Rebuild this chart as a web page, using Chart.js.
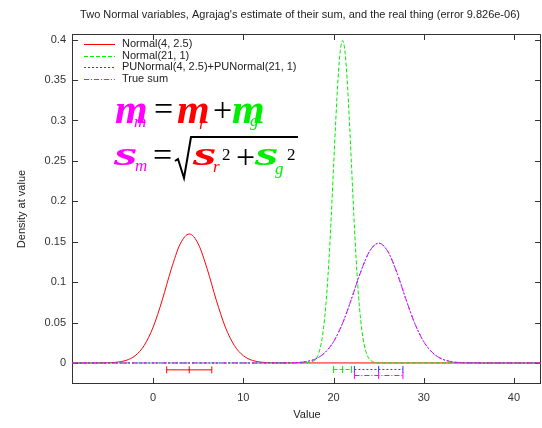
<!DOCTYPE html>
<html>
<head>
<meta charset="utf-8">
<script src="https://cdn.jsdelivr.net/npm/chart.js@4.4.0/dist/chart.umd.min.js"></script>
<style>
  html, body { margin: 0; padding: 0; background: #fff; overflow: hidden; }
</style>
</head>
<body>
<canvas id="c" width="542" height="428"></canvas>
<script>
// values
const titleText = "Two Normal variables, Agrajag's estimate of their sum, and the real thing (error 9.826e-06)";
const seriesNames = ['Normal(4, 2.5)', 'Normal(21, 1)', 'PUNormal(4, 2.5)+PUNormal(21, 1)', 'True sum'];

const redX = [-9, -6, -5, -4, -3, -2, -1, 0, 1, 2, 3, 4, 5, 6, 7, 8, 9, 10, 11, 12, 13, 14, 43];
const redY = [0, 0.00005, 0.00024, 0.00095, 0.0032, 0.0090, 0.0216, 0.0444, 0.0777, 0.1159, 0.1473, 0.1596,
  0.1473, 0.1159, 0.0777, 0.0444, 0.0216, 0.0090, 0.0032, 0.00095, 0.00024, 0.00005, 0];

const greenX = [-9, 16, 17, 17.5, 18, 18.25, 18.5, 18.75, 19, 19.25, 19.5, 19.75, 20, 20.25, 20.5, 20.75, 21,
  21.25, 21.5, 21.75, 22, 22.25, 22.5, 22.75, 23, 23.25, 23.5, 23.75, 24, 24.5, 25, 26, 43];
const greenY = [0, 0, 0.0001, 0.0009, 0.0044, 0.0091, 0.0175, 0.0317, 0.0540, 0.0863, 0.1295, 0.1826, 0.2420,
  0.3011, 0.3521, 0.3867, 0.3989, 0.3867, 0.3521, 0.3011, 0.2420, 0.1826, 0.1295, 0.0863, 0.0540, 0.0317,
  0.0175, 0.0091, 0.0044, 0.0009, 0.0001, 0, 0];

const sumX = [-9, 12, 13, 14, 15, 16, 17, 18, 19, 20, 21, 22, 23, 24, 25, 26, 27, 28, 29, 30, 31, 32, 33, 34,
  35, 36, 37, 38, 43];
const estY = [0, 0, 0.00001, 0.00004, 0.00015, 0.00056, 0.0018, 0.0050, 0.0124, 0.0264, 0.0491, 0.0797, 0.1124,
  0.1383, 0.1482, 0.1383, 0.1124, 0.0797, 0.0491, 0.0264, 0.0124, 0.0050, 0.0018, 0.00056, 0.00015, 0.00004,
  0.00001, 0, 0];
const trueY = [0, 0, 0.00001, 0.00004, 0.00015, 0.00056, 0.0018, 0.0050, 0.0124, 0.0264, 0.0491, 0.0797, 0.1124,
  0.1383, 0.1482, 0.1383, 0.1124, 0.0797, 0.0491, 0.0264, 0.0124, 0.0050, 0.0018, 0.00056, 0.00015, 0.00004,
  0.00001, 0, 0];

// mean +/- sd bars under the curves
const barMean = [4, 21, 25, 25];
const barSd = [2.5, 1, 2.69, 2.69];
const barLevel = [-0.0085, -0.008, -0.008, -0.0155];

const xTicks = [0, 10, 20, 30, 40];
const xTickLabels = ['0', '10', '20', '30', '40'];
const yTicks = [0, 0.05, 0.1, 0.15, 0.2, 0.25, 0.3, 0.35, 0.4];
const yTickLabels = ['0', '0.05', '0.1', '0.15', '0.2', '0.25', '0.3', '0.35', '0.4'];

const colors = ['#ff0000', '#00ee00', '#3333ff', '#ff00ff'];
const dashes = [[], [4, 2], [2, 2], [5, 2, 1, 2]];
const drawOrder = [4, 3, 2, 1]; // red underneath, magenta on top

const FONT = '"Liberation Sans", Arial, sans-serif';
const SERIF = '"Liberation Serif", "Times New Roman", serif';

const pts = (xs, ys) => xs.map((x, i) => ({ x: x, y: ys[i] }));

const curveData = [pts(redX, redY), pts(greenX, greenY), pts(sumX, estY), pts(sumX, trueY)];

const datasets = curveData.map((d, i) => ({
  label: seriesNames[i],
  data: d,
  order: drawOrder[i],
  borderColor: colors[i],
  borderWidth: 1,
  borderDash: dashes[i],
  pointRadius: 0,
  cubicInterpolationMode: 'monotone',
  fill: false
}));

barMean.forEach((m, i) => {
  datasets.push({
    label: '',
    data: [{ x: m - barSd[i], y: barLevel[i] }, { x: m, y: barLevel[i] }, { x: m + barSd[i], y: barLevel[i] }],
    order: drawOrder[i],
    borderColor: colors[i],
    borderWidth: 1,
    borderDash: dashes[i],
    pointStyle: 'line',
    pointRotation: 90,
    pointRadius: 3.5,
    pointBorderColor: colors[i],
    pointBorderWidth: 1,
    fill: false
  });
});

const frame = {
  id: 'frame',
  beforeDatasetsDraw(chart) {
    const { ctx, chartArea: a, scales } = chart;
    ctx.save();
    ctx.strokeStyle = '#333';
    ctx.lineWidth = 1;
    ctx.strokeRect(a.left + 0.5, a.top + 0.5, a.right - a.left - 1, a.bottom - a.top - 1);
    ctx.beginPath();
    xTicks.forEach(v => {
      const x = Math.round(scales.x.getPixelForValue(v)) + 0.5;
      ctx.moveTo(x, a.bottom); ctx.lineTo(x, a.bottom - 6);
      ctx.moveTo(x, a.top); ctx.lineTo(x, a.top + 6);
    });
    yTicks.forEach(v => {
      const y = Math.round(scales.y.getPixelForValue(v)) + 0.5;
      ctx.moveTo(a.left, y); ctx.lineTo(a.left + 6, y);
      ctx.moveTo(a.right, y); ctx.lineTo(a.right - 6, y);
    });
    ctx.stroke();

    // tick labels
    ctx.fillStyle = '#333';
    ctx.font = '11px ' + FONT;
    ctx.textBaseline = 'middle';
    ctx.textAlign = 'center';
    xTicks.forEach((v, i) => ctx.fillText(xTickLabels[i], scales.x.getPixelForValue(v), a.bottom + 14));
    ctx.textAlign = 'right';
    yTicks.forEach((v, i) => ctx.fillText(yTickLabels[i], a.left - 6, scales.y.getPixelForValue(v)));
    ctx.restore();
  },
  afterDraw(chart) {
    const { ctx } = chart;
    ctx.save();
    ctx.fillStyle = '#222';
    ctx.font = '11px ' + FONT;
    ctx.textAlign = 'center';
    ctx.textBaseline = 'middle';
    ctx.fillText(titleText, 300, 15);
    ctx.fillText('Value', 307, 415);
    ctx.save();
    ctx.translate(22, 209);
    ctx.rotate(-Math.PI / 2);
    ctx.fillText('Density at value', 0, 0);
    ctx.restore();

    // legend
    ctx.textAlign = 'left';
    for (let i = 0; i < 4; i++) {
      const y = 44 + i * 11.7;
      ctx.beginPath();
      ctx.setLineDash(dashes[i]);
      ctx.strokeStyle = colors[i];
      ctx.lineWidth = 1;
      ctx.moveTo(84, Math.round(y) + 0.5);
      ctx.lineTo(115, Math.round(y) + 0.5);
      ctx.stroke();
      ctx.fillStyle = '#222';
      ctx.fillText(seriesNames[i], 122, y);
    }
    ctx.setLineDash([]);

    // formula
    ctx.textBaseline = 'alphabetic';
    const txt = (s, x, y, col, font, sx) => {
      ctx.save();
      ctx.fillStyle = col;
      ctx.font = font;
      ctx.translate(x, y);
      ctx.scale(sx || 1, 1);
      ctx.fillText(s, 0, 0);
      ctx.restore();
    };
    const big = 'bold italic 42px ' + SERIF;
    const op = '34px ' + SERIF;
    const sub = 'italic 17px ' + SERIF;
    const sBig = 'bold italic 34px ' + SERIF;
    const sup = '17px ' + SERIF;
    // mu line
    txt('m', 115, 123, '#ff00ff', big);
    txt('m', 134, 127, '#ff00ff', sub);
    txt('=', 154, 120, '#000', op);
    txt('m', 177, 123, '#ff0000', big);
    txt('r', 199, 129, '#ff0000', sub);
    txt('+', 213, 121, '#000', op);
    txt('m', 232, 123, '#00ee00', big);
    txt('g', 250, 126, '#00ee00', sub);
    // sigma line
    txt('s', 114, 165, '#ff00ff', sBig, 1.8);
    txt('m', 135, 171, '#ff00ff', sub);
    txt('=', 153, 166, '#000', op);
    ctx.beginPath();
    ctx.strokeStyle = '#000';
    ctx.lineWidth = 2;
    ctx.moveTo(175, 161);
    ctx.lineTo(178, 159);
    ctx.lineTo(184, 178);
    ctx.lineTo(191, 137);
    ctx.lineTo(298, 137);
    ctx.stroke();
    txt('s', 193, 165, '#ff0000', sBig, 1.8);
    txt('r', 213, 172, '#ff0000', sub);
    txt('2', 222, 160, '#000', sup);
    txt('+', 236, 168, '#000', op);
    txt('s', 255, 165, '#00ee00', sBig, 1.8);
    txt('g', 275, 174, '#00ee00', sub);
    txt('2', 287, 160, '#000', sup);
    ctx.restore();
  }
};

new Chart(document.getElementById('c'), {
  type: 'line',
  data: { datasets: datasets },
  options: {
    responsive: false,
    animation: false,
    layout: { autoPadding: false, padding: { top: 34, right: 1, left: 0, bottom: 0 } },
    plugins: {
      legend: { display: false },
      tooltip: { enabled: false },
      title: { display: false }
    },
    scales: {
      x: {
        type: 'linear',
        min: -9,
        max: 43,
        grid: { display: false, drawTicks: false },
        border: { display: false },
        ticks: { display: false },
        afterBuildTicks: s => { s.ticks = xTicks.map(v => ({ value: v })); },
        afterFit: s => { s.height = 44; }
      },
      y: {
        type: 'linear',
        min: -0.026,
        max: 0.407,
        grid: { display: false, drawTicks: false },
        border: { display: false },
        ticks: { display: false },
        afterBuildTicks: s => { s.ticks = yTicks.map(v => ({ value: v })); },
        afterFit: s => { s.width = 72; }
      }
    }
  },
  plugins: [frame]
});
</script>
</body>
</html>
